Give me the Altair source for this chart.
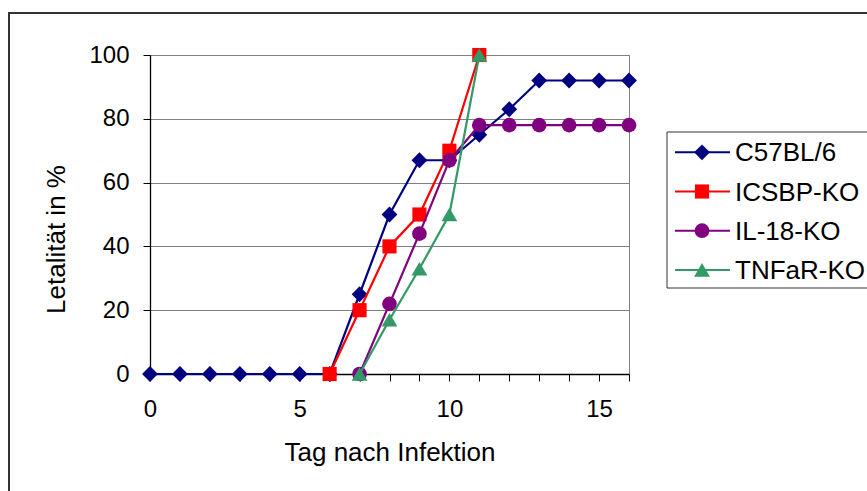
import altair as alt
import pandas as pd

# Series definitions
series_names = ["C57BL/6", "ICSBP-KO", "IL-18-KO", "TNFaR-KO"]
colors = ["#000080", "#FF0000", "#800080", "#339966"]
shapes = ["diamond", "square", "circle", "triangle-up"]
marker_sizes = [250, 200, 215, 250]

# Lethality (%) per day after infection
c57_days = list(range(17))
c57_vals = [0, 0, 0, 0, 0, 0, 0, 25, 50, 67, 67, 75, 83, 92, 92, 92, 92]
icsbp_days = [6, 7, 8, 9, 10, 11]
icsbp_vals = [0, 20, 40, 50, 70, 100]
il18_days = [7, 8, 9, 10, 11, 12, 13, 14, 15, 16]
il18_vals = [0, 22, 44, 67, 78, 78, 78, 78, 78, 78]
tnfar_days = [7, 8, 9, 10, 11]
tnfar_vals = [0, 17, 33, 50, 100]

x_ticks = list(range(17))
y_ticks = [0, 20, 40, 60, 80, 100]

all_days = [c57_days, icsbp_days, il18_days, tnfar_days]
all_vals = [c57_vals, icsbp_vals, il18_vals, tnfar_vals]

W, H = 479, 319
FONT = "Liberation Sans"

x_enc = alt.X(
    "day:Q",
    scale=alt.Scale(domain=[0, 16], nice=False, zero=False),
    axis=alt.Axis(
        values=x_ticks,
        labelExpr="datum.value % 5 === 0 ? datum.label : ''",
        title="Tag nach Infektion",
        titleX=W / 2,
        titleY=86,
        titleAlign="center",
        titleBaseline="alphabetic",
        labelBaseline="alphabetic",
        labelPadding=35,
        tickSize=7,
        labelOverlap=False,
        labelFlush=False,
        grid=False,
    ),
)
y_enc = alt.Y(
    "val:Q",
    scale=alt.Scale(domain=[0, 100], nice=False),
    axis=alt.Axis(
        values=y_ticks,
        title="Letalität in %",
        titleAngle=270,
        titleX=-86,
        titleY=184,
        titleAlign="center",
        titleBaseline="alphabetic",
        labelPadding=14,
        tickSize=7,
        grid=True,
        gridColor="#808080",
        gridWidth=1,
    ),
)

layers = []

# outer chart frame
frame = alt.Chart(pd.DataFrame({"k": [0]})).mark_rect(
    fill="white", fillOpacity=0, stroke="#333333", strokeWidth=2
).encode(
    x=alt.value(-141), x2=alt.value(760), y=alt.value(-42), y2=alt.value(480)
)
layers.append(frame)

# legend box
legend_box = alt.Chart(pd.DataFrame({"k": [0]})).mark_rect(
    fill="white", stroke="#333333", strokeWidth=1
).encode(
    x=alt.value(517), x2=alt.value(760), y=alt.value(77), y2=alt.value(233)
)
layers.append(legend_box)

for i, name in enumerate(series_names):
    cy = 97.3 + 39.2 * i
    ld = pd.DataFrame({"name": [name]})
    layers.append(
        alt.Chart(ld).mark_rule(color=colors[i], strokeWidth=2).encode(
            x=alt.value(525), x2=alt.value(580), y=alt.value(cy)
        )
    )
    layers.append(
        alt.Chart(ld).mark_point(
            shape=shapes[i], filled=True, opacity=1, color=colors[i], size=marker_sizes[i]
        ).encode(x=alt.value(552), y=alt.value(cy))
    )
    layers.append(
        alt.Chart(ld).mark_text(
            align="left", baseline="alphabetic", font=FONT, fontSize=26, color="black"
        ).encode(x=alt.value(585), y=alt.value(cy + 9), text="name:N")
    )

# data series: line then markers, one series after another
for i, name in enumerate(series_names):
    df = pd.DataFrame({"day": all_days[i], "val": all_vals[i]})
    base = alt.Chart(df).encode(x=x_enc, y=y_enc)
    layers.append(base.mark_line(color=colors[i], strokeWidth=2.2))
    layers.append(
        base.mark_point(
            shape=shapes[i], filled=True, opacity=1, color=colors[i], size=marker_sizes[i]
        )
    )

chart = (
    alt.layer(*layers)
    .properties(
        width=W,
        height=H,
        autosize=alt.AutoSizeParams(type="none"),
        padding={"left": 150, "top": 55, "right": 238, "bottom": 117},
        background="white",
    )
    .configure_view(stroke="#808080", strokeWidth=1)
    .configure_axis(
        labelFont=FONT,
        titleFont=FONT,
        labelFontSize=24,
        titleFontSize=26,
        titleFontWeight="normal",
        labelColor="black",
        titleColor="black",
        domainColor="black",
        tickColor="black",
        domainWidth=1.3,
        tickWidth=1,
    )
)

chart.save("out.html", embed_options={"renderer": "svg", "actions": False})
